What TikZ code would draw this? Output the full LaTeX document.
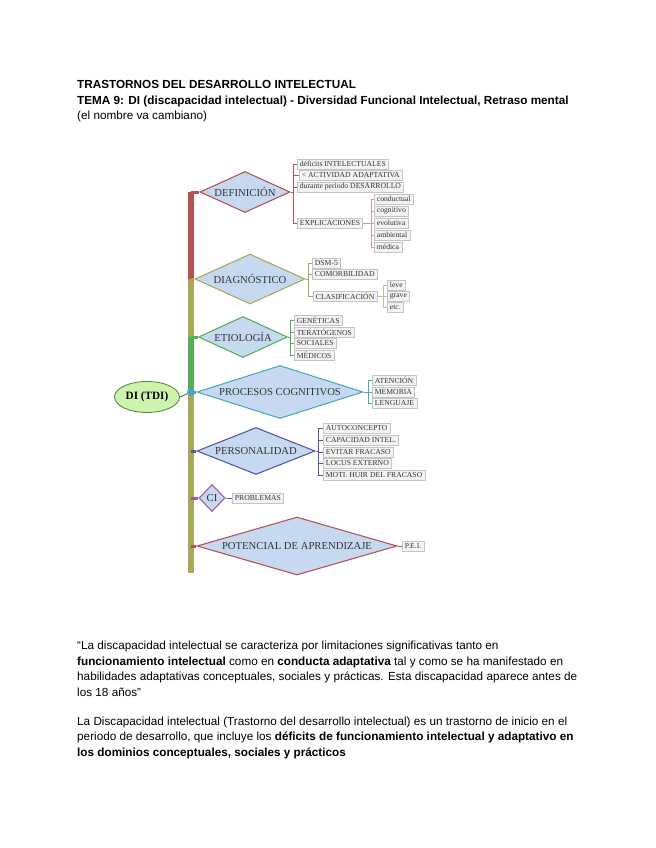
\documentclass[tikz,border=0pt]{standalone}
\usepackage{fontspec}
\setmainfont{Liberation Sans}
\newfontfamily\serifdiag{Liberation Serif}
\usetikzlibrary{shapes.geometric}
\definecolor{rojo}{HTML}{B5514F}
\definecolor{oliva}{HTML}{A8A85A}
\definecolor{verde}{HTML}{55AE55}
\definecolor{teal}{HTML}{4BA8B8}
\definecolor{indigo}{HTML}{5456A6}
\definecolor{morado}{HTML}{9A5AA8}
\definecolor{rombofill}{HTML}{C6D9F1}
\definecolor{hojafill}{HTML}{F3F3F3}
\definecolor{hojaline}{HTML}{C4C4C4}
\definecolor{elipfill}{HTML}{CDF3AE}
\definecolor{elipline}{HTML}{4E8A3E}
\newcommand{\px}{0.3295mm}
\tikzset{
  rombo/.style={diamond, draw, fill=rombofill, inner sep=0pt, line width=1pt,
                text=black!80, font=\serifdiag\fontsize{10}{11}\selectfont},
  hoja/.style={draw=hojaline, fill=hojafill, anchor=west, inner xsep=2.5pt,
               inner ysep=0pt, minimum height=10.5*\px, text=black!80,
               font=\serifdiag\fontsize{7.2}{8}\selectfont},
  tronco/.style={line width=6*\px},
  rama/.style={line width=3*\px},
  llave/.style={line width=1*\px},
  txt/.style={anchor=base west, inner sep=0pt, align=left,
              font=\fontsize{11}{14.5}\selectfont}
}

\begin{document}
\begin{tikzpicture}[x=\px,y=-\px]
  \fill[white] (0,0) rectangle (655,848);
  \useasboundingbox (0,0) rectangle (655,848);

  % encabezado
  \node[txt, font=\bfseries\fontsize{11}{14.5}\selectfont] (tit) at (77,88)
      {TRASTORNOS DEL DESARROLLO INTELECTUAL};
  \node[txt, font=\bfseries\fontsize{11}{14.5}\selectfont] (tema) at (77,104)
      {TEMA 9: DI (discapacidad intelectual) - Diversidad Funcional Intelectual, Retraso mental};
  \node[txt] (nota) at (77,119) {(el nombre va cambiano)};

  % tronco
  \coordinate (t0) at (191,192);
  \coordinate (t1) at (191,279);
  \coordinate (t2) at (191,337);
  \coordinate (t3) at (191,392);
  \coordinate (t4) at (191,573);
  \draw[tronco, rojo] (t0) -- (t1);
  \draw[tronco, oliva] (t1) -- (t2);
  \draw[tronco, verde] (t2) -- (t3);
  \draw[tronco, oliva] (t3) -- (t4);

  \node[ellipse, draw=elipline, fill=elipfill, line width=0.8pt, minimum width=65*\px,
        minimum height=31*\px, inner sep=0pt,
        font=\serifdiag\bfseries\fontsize{10.5}{11}\selectfont] (di) at (147,397) {DI (TDI)};

  % ramas
  \node[rombo, draw=rojo, aspect=2.2, minimum width=90*\px, minimum height=41*\px]
      (def) at (245,192) {DEFINICIÓN};
  \node[rombo, draw=oliva, aspect=2.2, minimum width=110*\px, minimum height=50*\px]
      (diag) at (250,279) {DIAGNÓSTICO};
  \node[rombo, draw=verde, aspect=2.2, minimum width=89*\px, minimum height=41*\px]
      (eti) at (243,337) {ETIOLOGÍA};
  \node[rombo, draw=teal, aspect=3.1, minimum width=166*\px, minimum height=53*\px]
      (proc) at (280,392) {PROCESOS COGNITIVOS};
  \node[rombo, draw=indigo, aspect=2.5, minimum width=118*\px, minimum height=47*\px]
      (per) at (256,451) {PERSONALIDAD};
  \node[rombo, draw=morado, aspect=1, minimum width=26*\px, minimum height=27*\px]
      (ci) at (212,498) {CI};
  \node[rombo, draw=rojo, aspect=3.4, minimum width=200*\px, minimum height=58*\px]
      (pot) at (297,546) {POTENCIAL DE APRENDIZAJE};

  \draw[rama, rojo] (t0) -- (def.west);
  \draw[rama, oliva] (t1) -- (diag.west);
  \draw[rama, verde] (t2) -- (eti.west);
  \draw[rama, teal] (t3) -- (proc.west);
  \draw[rama, indigo] (per.west -| t0) -- (per.west);
  \draw[rama, morado] (ci.west -| t0) -- (ci.west);
  \draw[rama, rojo] (pot.west -| t0) -- (pot.west);
  \draw[llave, elipline] (di.east) -- (t3);
  \fill[teal] (t3) circle (4);

  % definicion
  \node[hoja] (d1) at (297,164) {déficits INTELECTUALES};
  \node[hoja] (d2) at (299,175) {< ACTIVIDAD ADAPTATIVA};
  \node[hoja] (d3) at (297,187) {durante periodo DESARROLLO};
  \node[hoja] (d4) at (297,223) {EXPLICACIONES};
  \node[hoja] (e1) at (374,199) {conductual};
  \node[hoja] (e2) at (374,211) {cognitivo};
  \node[hoja] (e3) at (374,223) {evolutiva};
  \node[hoja] (e4) at (374,235) {ambiental};
  \node[hoja] (e5) at (374,247) {médica};
  \coordinate (defb) at (293,192);
  \coordinate (expb) at (371,223);
  \draw[llave, rojo] (def.east) -- (defb);
  \foreach \n in {d1,d2,d3,d4} \draw[llave, rojo] (defb) |- (\n.west);
  \draw[llave, rojo!60] (d4.east) -- (expb);
  \foreach \n in {e1,e2,e3,e4,e5} \draw[llave, rojo!60] (expb) |- (\n.west);

  % diagnostico
  \node[hoja] (g1) at (312,263) {DSM-5};
  \node[hoja] (g2) at (312,274) {COMORBILIDAD};
  \node[hoja] (g3) at (313,296) {CLASIFICACIÓN};
  \node[hoja] (c1) at (387,285) {leve};
  \node[hoja] (c2) at (387,296) {grave};
  \node[hoja] (c3) at (387,307) {etc.};
  \coordinate (diagb) at (308,279);
  \coordinate (clab) at (383,296);
  \draw[llave, oliva] (diag.east) -- (diagb);
  \foreach \n in {g1,g2,g3} \draw[llave, oliva] (diagb) |- (\n.west);
  \draw[llave, oliva!70] (g3.east) -- (clab);
  \foreach \n in {c1,c2,c3} \draw[llave, oliva!70] (clab) |- (\n.west);

  % etiologia
  \node[hoja] (h1) at (294,320) {GENÉTICAS};
  \node[hoja] (h2) at (294,332) {TERATÓGENOS};
  \node[hoja] (h3) at (294,343) {SOCIALES};
  \node[hoja] (h4) at (294,355) {MÉDICOS};
  \coordinate (etib) at (290,337);
  \draw[llave, verde] (eti.east) -- (etib);
  \foreach \n in {h1,h2,h3,h4} \draw[llave, verde] (etib) |- (\n.west);

  % procesos cognitivos
  \node[hoja] (p1) at (372,380) {ATENCIÓN};
  \node[hoja] (p2) at (372,392) {MEMORIA};
  \node[hoja] (p3) at (372,403) {LENGUAJE};
  \coordinate (procb) at (368,392);
  \draw[llave, teal] (proc.east) -- (procb);
  \foreach \n in {p1,p2,p3} \draw[llave, teal] (procb) |- (\n.west);

  % personalidad
  \node[hoja] (q1) at (323,428) {AUTOCONCEPTO};
  \node[hoja] (q2) at (323,440) {CAPACIDAD INTEL.};
  \node[hoja] (q3) at (323,452) {EVITAR FRACASO};
  \node[hoja] (q4) at (323,463) {LOCUS EXTERNO};
  \node[hoja] (q5) at (323,475) {MOTI. HUIR DEL FRACASO};
  \coordinate (perb) at (318,451);
  \draw[llave, indigo] (per.east) -- (perb);
  \foreach \n in {q1,q2,q3,q4,q5} \draw[llave, indigo] (perb) |- (\n.west);

  % CI y potencial
  \node[hoja] (prob) at (232,498) {PROBLEMAS};
  \draw[llave, morado] (ci.east) -- (prob.west);
  \node[hoja] (pei) at (402,546) {P.E.I.};
  \draw[llave, rojo] (pot.east) -- (pei.west);

  % texto
  \node[txt] (cita) at (77,696)
      {“La discapacidad intelectual se caracteriza por limitaciones significativas tanto en\\
       \textbf{funcionamiento intelectual} como en \textbf{conducta adaptativa} tal y como se ha manifestado en\\
       habilidades adaptativas conceptuales, sociales y prácticas. Esta discapacidad aparece antes de\\
       los 18 años”};
  \node[txt] (defi) at (77,756)
      {La Discapacidad intelectual (Trastorno del desarrollo intelectual) es un trastorno de inicio en el\\
       periodo de desarrollo, que incluye los \textbf{déficits de funcionamiento intelectual y adaptativo en}\\
       \textbf{los dominios conceptuales, sociales y prácticos}};
\end{tikzpicture}
\end{document}
